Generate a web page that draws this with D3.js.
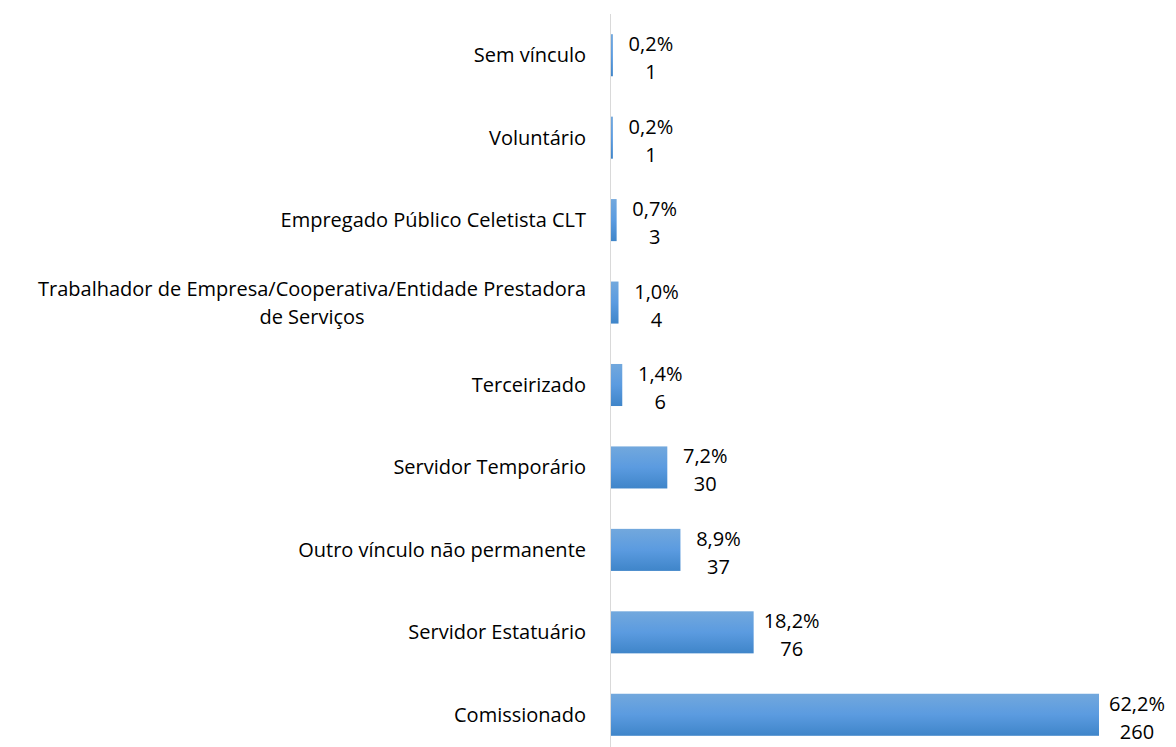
<!DOCTYPE html>
<html>
<head>
<meta charset="utf-8">
<script src="https://cdn.jsdelivr.net/npm/d3@7"></script>
<style>
  body { margin: 0; background: #fff; }
  text { font-family: 'Open Sans', 'Noto Sans', sans-serif; fill: #000; }
</style>
</head>
<body>
<div id="chart"></div>
<script>
const categories = [
  'Sem vínculo',
  'Voluntário',
  'Empregado Público Celetista CLT',
  'Trabalhador de Empresa/Cooperativa/Entidade Prestadora de Serviços',
  'Terceirizado',
  'Servidor Temporário',
  'Outro vínculo não permanente',
  'Servidor Estatuário',
  'Comissionado',
]
const counts = [1, 1, 3, 4, 6, 30, 37, 76, 260]
const percents = ['0,2%', '0,2%', '0,7%', '1,0%', '1,4%', '7,2%', '8,9%', '18,2%', '62,2%']

const width = 1176
const height = 747
const axisX = 611
const fontSize = 20

const svg = d3
  .select('#chart')
  .append('svg')
  .attr('width', width)
  .attr('height', height)

const grad = svg
  .append('defs')
  .append('linearGradient')
  .attr('id', 'bar-gradient')
  .attr('x1', 0)
  .attr('y1', 0)
  .attr('x2', 0)
  .attr('y2', 1)
grad.append('stop').attr('offset', 0).attr('stop-color', '#72a8dd')
grad.append('stop').attr('offset', 0.5).attr('stop-color', '#5b9be0')
grad.append('stop').attr('offset', 1).attr('stop-color', '#3f85c9')

const xScale = d3.scaleLinear().domain([0, 260]).range([axisX, 1099])

const yScale = d3
  .scaleBand()
  .domain(categories)
  .range([14, 756])
  .paddingInner(0.49)
  .paddingOuter(0.245)

svg
  .selectAll('rect.bar')
  .data(categories)
  .join('rect')
  .attr('class', 'bar')
  .attr('x', axisX)
  .attr('y', d => yScale(d))
  .attr('width', (d, i) => xScale(counts[i]) - axisX)
  .attr('height', yScale.bandwidth())
  .attr('fill', 'url(#bar-gradient)')

svg
  .append('line')
  .attr('x1', axisX - 0.5)
  .attr('x2', axisX - 0.5)
  .attr('y1', 14)
  .attr('y2', height)
  .attr('stroke', '#d9d9d9')
  .attr('stroke-width', 1)

// category labels, wrapped when too wide
const labelRight = 586
const maxLabelWidth = 568
const probe = svg.append('text').attr('font-size', fontSize)
const measure = s => probe.text(s).node().getComputedTextLength()

categories.forEach(cat => {
  const cy = yScale(cat) + yScale.bandwidth() / 2
  const words = cat.split(' ')
  const lines = [[]]
  words.forEach(w => {
    const cur = lines[lines.length - 1]
    if (measure(cur.concat(w).join(' ')) > maxLabelWidth && cur.length) {
      lines.push([w])
    } else {
      cur.push(w)
    }
  })
  const lh = 28
  const y0 = cy - ((lines.length - 1) * lh) / 2
  const t = svg.append('text').attr('font-size', fontSize)
  let lx = labelRight
  if (lines.length > 1) {
    const widest = d3.max(lines, l => measure(l.join(' ')))
    lx = labelRight - widest / 2
    t.attr('text-anchor', 'middle')
  } else {
    t.attr('text-anchor', 'end')
  }
  lines.forEach((l, i) => {
    t.append('tspan')
      .attr('x', lx)
      .attr('y', y0 + i * lh)
      .attr('dy', '0.35em')
      .text(l.join(' '))
  })
})
probe.remove()

// value labels
categories.forEach((cat, i) => {
  const cy = yScale(cat) + yScale.bandwidth() / 2
  const cx = xScale(counts[i]) + 38
  svg
    .append('text')
    .attr('x', cx)
    .attr('y', cy - 11)
    .attr('dy', '0.35em')
    .attr('text-anchor', 'middle')
    .attr('font-size', fontSize)
    .text(percents[i])
  svg
    .append('text')
    .attr('x', cx)
    .attr('y', cy + 17)
    .attr('dy', '0.35em')
    .attr('text-anchor', 'middle')
    .attr('font-size', fontSize)
    .text(counts[i])
})
</script>
</body>
</html>
